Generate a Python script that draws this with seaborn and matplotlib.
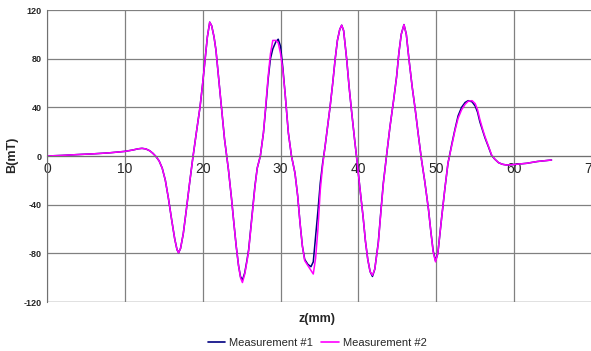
import pandas as pd
import seaborn as sns
import matplotlib.pyplot as plt

# position along the magnet (mm)
z = [0, 2, 4, 6, 8, 10, 11, 11.7, 12.2, 12.7,
     13.2, 13.6, 14.0, 14.4, 14.8, 15.2, 15.6, 16.0, 16.4, 16.7,
     16.9, 17.15, 17.5, 17.9, 18.3, 18.7, 19.2, 19.65, 20.0, 20.3,
     20.6, 20.9, 21.15, 21.45, 21.7, 22.0, 22.4, 22.8, 23.3, 23.7,
     24.0, 24.3, 24.6, 24.85, 25.1, 25.4, 25.7, 25.9, 26.3, 26.7,
     27.0, 27.4, 27.8, 28.1, 28.4, 28.7, 29.0, 29.4, 29.7, 30.0,
     30.3, 30.6, 31.0, 31.4, 31.85, 32.2, 32.5, 32.8, 33.1, 33.5,
     33.9, 34.2, 34.5, 34.8, 35.1, 35.4, 35.7, 36.0, 36.35, 36.7,
     37.0, 37.3, 37.6, 37.85, 38.1, 38.5, 38.8, 39.1, 39.5, 39.8,
     40.2, 40.6, 40.9, 41.2, 41.5, 41.8, 42.1, 42.55, 42.9, 43.2,
     43.6, 44.05, 44.5, 44.9, 45.2, 45.5, 45.85, 46.15, 46.5, 46.9,
     47.3, 47.7, 48.1, 48.5, 49.0, 49.3, 49.6, 49.9, 50.2, 50.7,
     51.1, 51.5, 52.0, 52.4, 52.8, 53.25, 53.7, 54.1, 54.6, 55.0,
     55.3, 55.6, 56.0, 56.25, 56.7, 57.1, 57.5, 58.0, 58.5, 59.0,
     60.0, 61.6, 63.0, 64.8]

# Measurement #1 (dark blue)
b1 = [0, 0.5, 1.2, 1.8, 2.6, 3.8, 4.9, 5.9, 6.3, 5.8,
      4.3, 2.2, -0.5, -4, -10, -20, -35, -52, -68, -77,
      -79.5, -76, -64, -44, -23, -3, 20, 40, 60, 79,
      98, 110, 107, 98, 87, 67, 40, 14, -11, -35,
      -55, -74, -90, -99, -102, -96, -85, -77, -51, -25,
      -10, 0, 19, 40, 63, 80, 88, 94, 96, 90,
      72, 50, 19, 0, -14, -33, -55, -74, -85, -89,
      -91, -87, -66, -45, -22, -6, 7, 22, 40, 60,
      79, 95, 104, 107.5, 103, 79, 57, 38, 14, -3,
      -27, -50, -70, -85, -95, -99, -93, -71, -44, -22,
      0, 24, 45, 65, 85, 100, 108, 100, 79, 57,
      38, 17, -3, -20, -44, -62, -78, -86, -80, -50,
      -27, -6, 10, 22, 33, 40, 44, 45.5, 44.5, 41,
      36, 28, 20, 15, 7.5, 0.5, -2.5, -5.5, -6.8, -7.4,
      -7, -6, -4.5, -3.3]

# Measurement #2 (magenta)
b2 = [0, 0.5, 1.2, 1.8, 2.6, 3.8, 4.9, 5.9, 6.3, 5.8,
      4.3, 2.2, -0.5, -4, -10, -20, -35, -52, -68, -77,
      -79.5, -76, -64, -44, -23, -3, 20, 40, 60, 79,
      98, 110, 107, 98, 87, 67, 40, 14, -11, -35,
      -55, -74, -90, -100, -104, -97, -86, -78, -52, -26,
      -10, 0, 19, 42, 65, 84, 95, 95, 93, 84,
      70, 50, 19, 0, -14, -33, -55, -74, -86, -90,
      -94, -97, -84, -60, -28, -8, 7, 22, 40, 60,
      79, 95, 104, 107.5, 103, 79, 57, 38, 14, -3,
      -27, -50, -70, -85, -95, -98, -93, -72, -45, -23,
      0, 24, 45, 65, 85, 100, 108, 100, 79, 57,
      38, 17, -3, -20, -44, -62, -79, -87, -80, -50,
      -27, -6, 9, 21, 31, 38, 42.5, 45, 45.5, 43,
      38, 30, 21, 16, 8, 1, -2.5, -5.5, -6.8, -7.4,
      -7, -6, -4.5, -3.3]

labels = ['Measurement #1', 'Measurement #2']
colors = ['#000080', '#FF00FF']
xticks = [0, 10, 20, 30, 40, 50, 60, 70]
yticks = [-120, -80, -40, 0, 40, 80, 120]

df = pd.concat([
    pd.DataFrame({'z': z, 'B': b1, 'series': labels[0]}),
    pd.DataFrame({'z': z, 'B': b2, 'series': labels[1]}),
])

sns.set_style('white')
plt.rcParams['font.family'] = ['Liberation Sans', 'DejaVu Sans']

fig = plt.figure(figsize=(5.91, 3.51), dpi=100)
ax = fig.add_axes([47 / 591, 1 - 302 / 351, 545 / 591, 292 / 351])

sns.lineplot(data=df, x='z', y='B', hue='series', palette=colors, sort=False,
             linewidth=1.1, ax=ax, legend=False)

ax.set_xlim(0, 70)
ax.set_ylim(-120, 120)
ax.set_xticks(xticks)
ax.set_yticks(yticks)
# the 70 label is cut by the right edge, as in the original
ax.set_xticklabels([str(v) for v in xticks], fontsize=6.5, fontweight='bold')
ax.set_yticklabels([str(v) for v in yticks], fontsize=6.5, fontweight='bold')
ax.tick_params(length=0, pad=4)
ax.grid(True, color='#808080', linewidth=0.9)
ax.set_axisbelow(True)

# x axis crosses at B = 0 like the original
ax.spines['bottom'].set_position(('data', 0))
ax.spines['bottom'].set_color('#707070')
ax.spines['left'].set_color('#707070')
ax.spines['top'].set_visible(False)
ax.spines['right'].set_visible(False)
ax.axhline(-120, color='#b0b0b0', linewidth=1, zorder=0)

ax.set_xlabel('')
ax.set_ylabel('')
fig.text(12 / 591, 1 - 155 / 351, 'B(mT)', rotation=90, ha='center', va='center',
         fontsize=9, fontweight='bold')
fig.text(317 / 591, 1 - 319 / 351, 'z(mm)', ha='center', va='center',
         fontsize=9, fontweight='bold')

handles = [plt.Line2D([], [], color=c, linewidth=1.2) for c in colors]
fig.legend(handles, labels, loc='center', bbox_to_anchor=(317 / 591, 1 - 343 / 351),
           ncol=2, frameon=False, fontsize=8, handlelength=1.6, handletextpad=0.3,
           columnspacing=0.8)

plt.savefig('out.png', dpi=100)
